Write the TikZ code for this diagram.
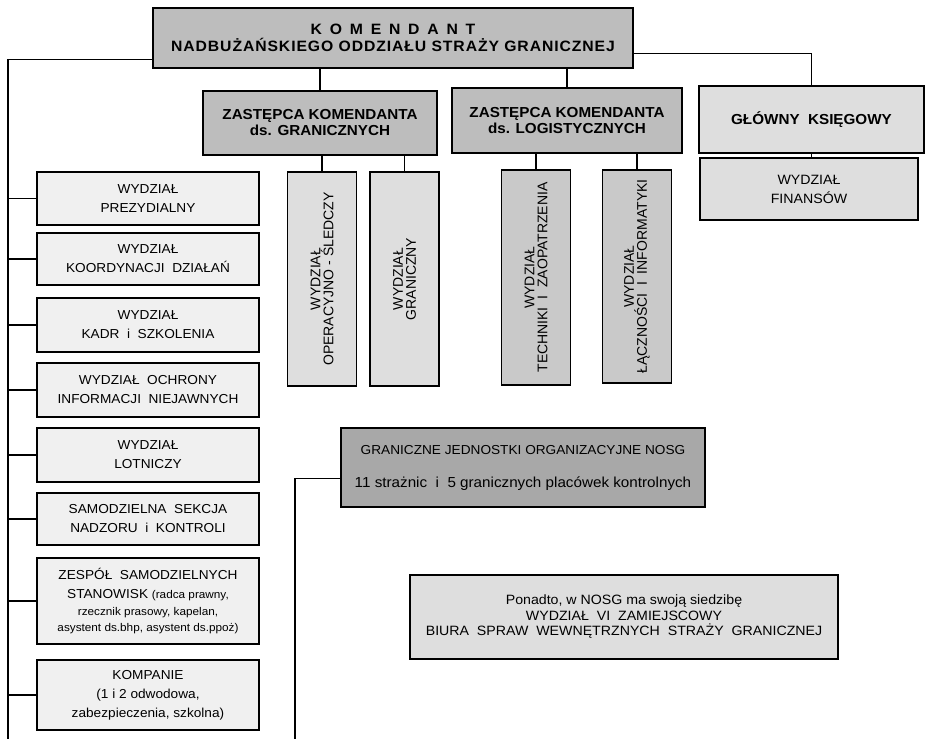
\documentclass[tikz,border=0pt]{standalone}
\usepackage{fontspec}
\setmainfont[FakeStretch=1.05]{Liberation Sans}
\newfontfamily\upfont{Liberation Sans}
\definecolor{komgray}{gray}{0.74}
\definecolor{midgray}{gray}{0.79}
\definecolor{ltgray}{gray}{0.87}
\definecolor{palegray}{gray}{0.94}
\definecolor{gjogray}{gray}{0.66}

\begin{document}
\begin{tikzpicture}[x=1pt,y=-1pt,
    box/.style={draw, line width=1.3pt, align=center, inner sep=0pt},
    headbox/.style={box, fill=komgray, font=\bfseries\fontsize{14.5}{16}\selectfont},
    leftbox/.style={box, fill=palegray, minimum width=222, font=\fontsize{13}{19}\selectfont},
    vbox/.style={box, rotate=90, minimum height=69, font=\upfont\fontsize{14}{13}\selectfont},
    conn/.style={line width=1.1pt}]
\useasboundingbox (0,0) rectangle (929,739);

% top level
\node[headbox, minimum width=480, minimum height=60, font=\bfseries\fontsize{15}{17}\selectfont] (kom) at (393,38)
    {{\addfontfeature{LetterSpace=52}KOMENDANT}\\{\addfontfeature{LetterSpace=6}NADBUŻAŃSKIEGO ODDZIAŁU STRAŻY GRANICZNEJ}};
\node[headbox, minimum width=234, minimum height=64] (zgr) at (320,123) {ZASTĘPCA KOMENDANTA\\ds. GRANICZNYCH};
\node[headbox, minimum width=230, minimum height=65] (zlog) at (567,120.5) {ZASTĘPCA KOMENDANTA\\ds. LOGISTYCZNYCH};
\node[headbox, fill=ltgray, minimum width=225, minimum height=67] (ksieg) at (811.5,119.5) {GŁÓWNY\ \ KSIĘGOWY};
\node[box, fill=ltgray, minimum width=218, minimum height=62, font=\fontsize{13.5}{19}\selectfont] (fin) at (809,189) {WYDZIAŁ\\FINANSÓW};

% rotated boxes: east is the top
\node[vbox, fill=ltgray, minimum width=214] (opsl) at (322,279) {WYDZIAŁ\\OPERACYJNO - ŚLEDCZY};
\node[vbox, fill=ltgray, minimum width=214] (gran) at (404.5,279) {WYDZIAŁ\\GRANICZNY};
\node[vbox, fill=midgray, minimum width=215] (tech) at (536,277.5) {WYDZIAŁ\\TECHNIKI\ \ I\ \ ZAOPATRZENIA};
\node[vbox, fill=midgray, minimum width=213] (lacz) at (637,276.5) {WYDZIAŁ\\ŁĄCZNOŚCI\ \ I\ \ INFORMATYKI};

% left column
\node[leftbox, minimum height=53] (prez) at (148,198.5) {WYDZIAŁ\\PREZYDIALNY};
\node[leftbox, minimum height=52] (koord) at (148,259) {WYDZIAŁ\\KOORDYNACJI\ \ DZIAŁAŃ};
\node[leftbox, minimum height=54] (kadr) at (148,325) {WYDZIAŁ\\KADR\ \ i\ \ SZKOLENIA};
\node[leftbox, minimum height=54] (ochr) at (148,390) {WYDZIAŁ\ \ OCHRONY\\INFORMACJI\ \ NIEJAWNYCH};
\node[leftbox, minimum height=54] (lotn) at (148,455) {WYDZIAŁ\\LOTNICZY};
\node[leftbox, minimum height=52] (samo) at (148,519) {SAMODZIELNA\ \ SEKCJA\\NADZORU\ \ i\ \ KONTROLI};
\node[leftbox, minimum height=86] (zesp) at (148,601)
    {ZESPÓŁ\ \ SAMODZIELNYCH\\STANOWISK {\fontsize{11.2}{15}\selectfont (radca prawny,}\\[-2pt]
     {\fontsize{11.2}{15}\selectfont rzecznik prasowy, kapelan,}\\[-3pt]
     {\fontsize{11.2}{15}\selectfont asystent ds.bhp, asystent ds.ppoż)}};
\node[leftbox, minimum height=70] (komp) at (148,695) {KOMPANIE\\(1 i 2 odwodowa,\\zabezpieczenia, szkolna)};

% units and note
\node[box, fill=gjogray, minimum width=364, minimum height=79] (gjo) at (523,467.5)
    {{\fontsize{13}{14}\selectfont GRANICZNE JEDNOSTKI ORGANIZACYJNE NOSG}\\[21pt]
     {\fontsize{14.5}{14}\selectfont 11 strażnic\ \ i\ \ 5 granicznych placówek kontrolnych}};
\node[box, fill=ltgray, minimum width=428, minimum height=84, font=\fontsize{13.5}{15.5}\selectfont] (pon) at (624,617)
    {Ponadto, w NOSG ma swoją siedzibę\\WYDZIAŁ\ \ VI\ \ ZAMIEJSCOWY\\BIURA\ \ SPRAW\ \ WEWNĘTRZNYCH\ \ STRAŻY\ \ GRANICZNEJ};

\coordinate (spine) at (8,739);
\coordinate (gjospine) at (295,739);

\draw[conn] ([yshift=9pt]kom.south west) -| (spine);
\draw[conn] ([yshift=15pt]kom.south east) -| (ksieg.north);
\draw[conn] (zgr.north) -- (zgr.north |- kom.south);
\draw[conn] (zlog.north) -- (zlog.north |- kom.south);
\draw[conn] (ksieg.south) -- (ksieg.south |- fin.north);
\draw[conn] (opsl.east) -- (opsl.east |- zgr.south);
\draw[conn] (gran.east) -- (gran.east |- zgr.south);
\draw[conn] (tech.east) -- (tech.east |- zlog.south);
\draw[conn] (lacz.east) -- (lacz.east |- zlog.south);
\foreach \n in {prez,koord,kadr,ochr,lotn,samo,zesp,komp}
    \draw[conn] (\n.west) -- (\n.west -| spine);
\draw[conn] ([yshift=29pt]gjo.south west) -| (gjospine);
\end{tikzpicture}
\end{document}
